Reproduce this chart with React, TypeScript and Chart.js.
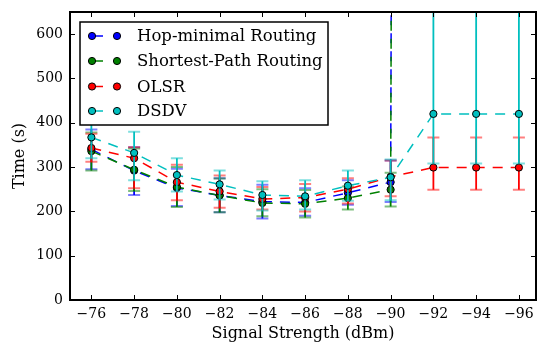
import React, { useEffect, useRef } from "react";
import { Chart, registerables } from "chart.js";

Chart.register(...registerables);

// ---- data ----
const signal = [-76, -78, -80, -82, -84, -86, -88, -90, -92, -94, -96];
const OFF = 30000; // far above the plotted range (series diverge)

const hopMean = [340, 292, 253, 236, 222, 220, 242, 266, OFF, OFF, OFF];
const hopLow = [295, 237, 212, 198, 184, 190, 215, 221, null, null, null];
const hopHigh = [385, 345, 296, 275, 260, 252, 270, 315, null, null, null];

const spMean = [336, 294, 255, 236, 219, 217, 230, 249, OFF, OFF, OFF];
const spLow = [292, 246, 210, 198, 189, 186, 204, 211, null, null, null];
const spHigh = [378, 342, 300, 274, 250, 248, 256, 287, null, null, null];

const olsrMean = [343, 320, 266, 245, 228, 231, 250, 278, 299, 299, 299];
const olsrLow = [312, 252, 225, 208, 204, 200, 218, 234, 249, 249, 249];
const olsrHigh = [375, 345, 305, 281, 255, 262, 275, 315, 367, 367, 367];

const dsdvMean = [367, 332, 282, 261, 237, 234, 258, 277, 420, 420, 420];
const dsdvLow = [320, 270, 245, 227, 202, 204, 224, 225, 308, 308, 308];
const dsdvHigh = [414, 380, 320, 292, 268, 270, 292, 317, 2000, 2000, 2000];

const seriesNames = ["Hop-minimal Routing", "Shortest-Path Routing", "OLSR", "DSDV"];
const seriesColors = ["#0000ff", "#008000", "#ff0000", "#00bfbf"];
const capColors = ["rgba(0,0,255,0.5)", "rgba(0,128,0,0.5)", "rgba(255,0,0,0.5)", "rgba(0,191,191,0.5)"];
const means = [hopMean, spMean, olsrMean, dsdvMean];
const lows = [hopLow, spLow, olsrLow, dsdvLow];
const highs = [hopHigh, spHigh, olsrHigh, dsdvHigh];

const xTicks = [-76, -78, -80, -82, -84, -86, -88, -90, -92, -94, -96];
const yTicks = [0, 100, 200, 300, 400, 500, 600];

const FONT = "'DejaVu Serif', serif";

const errorBarPlugin = {
  id: "errorBars",
  beforeDatasetDraw(chart: any, args: any) {
    const i = args.index;
    const { ctx, chartArea } = chart;
    const xs = chart.scales.x;
    const ys = chart.scales.y;
    ctx.save();
    ctx.beginPath();
    ctx.rect(chartArea.left, chartArea.top, chartArea.right - chartArea.left, chartArea.bottom - chartArea.top);
    ctx.clip();
    const lo = lows[i];
    const hi = highs[i];
    for (let k = 0; k < signal.length; k++) {
      if (lo[k] == null || hi[k] == null) continue;
      const px = xs.getPixelForValue(signal[k]);
      const pLo = ys.getPixelForValue(lo[k] as number);
      const pHi = ys.getPixelForValue(hi[k] as number);
      ctx.strokeStyle = seriesColors[i];
      ctx.lineWidth = 1.8;
      ctx.beginPath();
      ctx.moveTo(px, pLo);
      ctx.lineTo(px, pHi);
      ctx.stroke();
      ctx.strokeStyle = capColors[i];
      ctx.lineWidth = 2;
      ctx.beginPath();
      ctx.moveTo(px - 6, pLo);
      ctx.lineTo(px + 6, pLo);
      ctx.moveTo(px - 6, pHi);
      ctx.lineTo(px + 6, pHi);
      ctx.stroke();
    }
    ctx.restore();
  },
};

const framePlugin = {
  id: "frameAndLegend",
  afterDraw(chart: any) {
    const { ctx, chartArea } = chart;
    const { left, right, top, bottom } = chartArea;
    const xs = chart.scales.x;
    const ys = chart.scales.y;
    ctx.save();
    // inward ticks
    ctx.strokeStyle = "#000";
    ctx.lineWidth = 1;
    ctx.beginPath();
    for (const v of xTicks) {
      const px = Math.round(xs.getPixelForValue(v)) + 0.5;
      ctx.moveTo(px, bottom);
      ctx.lineTo(px, bottom - 5);
      ctx.moveTo(px, top);
      ctx.lineTo(px, top + 5);
    }
    for (const v of yTicks) {
      const py = Math.round(ys.getPixelForValue(v)) + 0.5;
      ctx.moveTo(left, py);
      ctx.lineTo(left + 5, py);
      ctx.moveTo(right, py);
      ctx.lineTo(right - 5, py);
    }
    ctx.stroke();
    // frame
    ctx.lineWidth = 2;
    ctx.strokeRect(left, top, right - left, bottom - top);

    // legend
    const bx = 80, by = 22, bw = 248, bh = 103;
    ctx.fillStyle = "#fff";
    ctx.fillRect(bx, by, bw, bh);
    ctx.lineWidth = 1.5;
    ctx.strokeStyle = "#000";
    ctx.strokeRect(bx, by, bw, bh);
    const rowY = [36, 61, 86.5, 111];
    ctx.font = `16.5px ${FONT}`;
    ctx.textBaseline = "middle";
    ctx.textAlign = "left";
    for (let i = 0; i < seriesNames.length; i++) {
      const y = rowY[i];
      ctx.strokeStyle = seriesColors[i];
      ctx.lineWidth = 1.5;
      ctx.beginPath();
      ctx.moveTo(92, y);
      ctx.lineTo(103, y);
      ctx.stroke();
      for (const mx of [92, 117]) {
        ctx.beginPath();
        ctx.arc(mx, y, 3.6, 0, Math.PI * 2);
        ctx.fillStyle = seriesColors[i];
        ctx.fill();
        ctx.lineWidth = 1;
        ctx.strokeStyle = "#000";
        ctx.stroke();
      }
      ctx.fillStyle = "#000";
      ctx.fillText(seriesNames[i], 137, y + 1);
    }
    ctx.restore();
  },
};

export default function App() {
  const ref = useRef<HTMLCanvasElement>(null);
  useEffect(() => {
    document.body.style.margin = "0";
    if (!ref.current) return;
    Chart.defaults.font.family = FONT;
    Chart.defaults.color = "#000";
    const datasets = seriesNames.map((name, i) => ({
      label: name,
      data: signal.map((x, k) => ({ x, y: means[i][k] })),
      borderColor: seriesColors[i],
      backgroundColor: seriesColors[i],
      pointBackgroundColor: seriesColors[i],
      pointBorderColor: "#000",
      pointBorderWidth: 1,
      pointRadius: 3.6,
      borderWidth: 1.5,
      borderDash: [10, 8],
      fill: false,
      tension: 0,
      order: 4 - i,
    }));
    const chart = new Chart(ref.current, {
      type: "line",
      data: { datasets },
      plugins: [errorBarPlugin, framePlugin],
      options: {
        animation: false,
        responsive: false,
        layout: { autoPadding: false, padding: { top: 12, right: 1, left: 0, bottom: 0 } },
        plugins: { legend: { display: false }, tooltip: { enabled: false } },
        scales: {
          x: {
            type: "linear",
            reverse: true,
            min: -96.8,
            max: -75,
            grid: { display: false, drawTicks: false },
            border: { display: false },
            afterBuildTicks: (s: any) => {
              s.ticks = xTicks.map((v) => ({ value: v }));
            },
            afterFit: (s: any) => {
              s.height = 47;
              s.paddingLeft = 0;
              s.paddingRight = 0;
            },
            ticks: {
              font: { size: 14, family: FONT },
              padding: 6,
              maxRotation: 0,
              autoSkip: false,
              callback: (v: any) => String(v).replace("-", "\u2212"),
            },
            title: {
              display: true,
              text: "Signal Strength (dBm)",
              font: { size: 16, family: FONT },
              padding: { top: 0, bottom: 4 },
            },
          },
          y: {
            type: "linear",
            min: 0,
            max: 650,
            grid: { display: false, drawTicks: false },
            border: { display: false },
            afterBuildTicks: (s: any) => {
              s.ticks = yTicks.map((v) => ({ value: v }));
            },
            afterFit: (s: any) => {
              s.width = 70;
              s.paddingTop = 0;
              s.paddingBottom = 0;
            },
            ticks: {
              font: { size: 14, family: FONT },
              padding: 7,
              autoSkip: false,
            },
            title: {
              display: true,
              text: "Time (s)",
              font: { size: 16, family: FONT },
              padding: { top: 10, bottom: 4 },
            },
          },
        },
      } as any,
    });
    return () => chart.destroy();
  }, []);
  return <canvas ref={ref} width={537} height={347} style={{ display: "block" }} />;
}
